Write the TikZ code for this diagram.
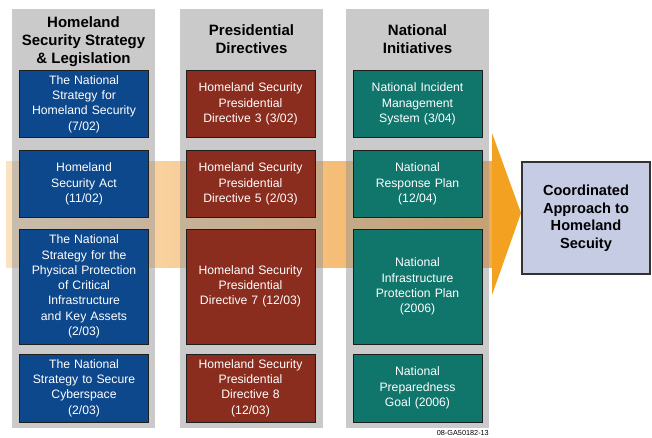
\documentclass[tikz,border=0pt]{standalone}
\usepackage{fontspec}
\setmainfont{Liberation Sans}
\definecolor{hsblue}{RGB}{14,72,140}
\definecolor{hsred}{RGB}{138,45,30}
\definecolor{hsteal}{RGB}{16,118,108}
\definecolor{colgray}{RGB}{151,151,151}
\definecolor{bandL}{RGB}{251,226,192}
\definecolor{bandR}{RGB}{242,172,84}
\definecolor{heador}{RGB}{243,161,32}
\definecolor{goalfill}{RGB}{197,204,228}
\definecolor{edge}{RGB}{30,30,30}
\begin{document}
\begin{tikzpicture}[x=1pt,y=-1pt,
  column/.style={fill=colgray, fill opacity=0.5, draw=none},
  header/.style={align=center, inner sep=0pt, font=\bfseries\fontsize{15}{18}\selectfont},
  itembox/.style={draw=edge, line width=0.8pt, text=white, align=center, inner sep=2pt,
    text width=125pt, font=\fontsize{12.2}{15.3}\selectfont},
  bluebox/.style={itembox, fill=hsblue},
  redbox/.style={itembox, fill=hsred},
  tealbox/.style={itembox, fill=hsteal},
  hA/.style={minimum height=67pt},
  hB/.style={minimum height=115pt},
  hC/.style={minimum height=68pt},
  goal/.style={draw={rgb,255:red,50;green,50;blue,50}, line width=1.2pt, fill=goalfill,
    align=center, minimum width=128pt, minimum height=112pt, inner sep=2pt,
    font=\bfseries\fontsize{14.6}{17.5}\selectfont}
]
\useasboundingbox (0,0) rectangle (652,437);
\fill[white] (0,0) rectangle (652,437);
% band and arrow head
\shade[left color=bandL, right color=bandR] (6,161) rectangle (492,267);
\fill[heador] (492,133) -- (521,213) -- (492,295) -- cycle;
% gray columns
\fill[column] (12,9) rectangle (155,428);
\fill[column] (180,9) rectangle (323,428);
\fill[column] (346,9) rectangle (489,428);
% headers
\node[header] (h1) at (83.5,41.5) {Homeland\\Security Strategy\\\& Legislation};
\node[header] (h2) at (251.5,39.5) {Presidential\\Directives};
\node[header] (h3) at (417.5,39.5) {National\\Initiatives};
% column 1
\node[bluebox,hA] (b1) at (84,104) {The National\\Strategy for\\Homeland Security\\(7/02)};
\node[bluebox,hA] (b2) at (84,184) {Homeland\\Security Act\\(11/02)};
\node[bluebox,hB] (b3) at (84,286.5) {The National\\Strategy for the\\Physical Protection\\of Critical\\Infrastructure\\and Key Assets\\(2/03)};
\node[bluebox,hC] (b4) at (84,388) {The National\\Strategy to Secure\\Cyberspace\\(2/03)};
% column 2
\node[redbox,hA] (r1) at (250.5,104) {Homeland Security\\Presidential\\Directive 3 (3/02)};
\node[redbox,hA] (r2) at (250.5,184) {Homeland Security\\Presidential\\Directive 5 (2/03)};
\node[redbox,hB] (r3) at (250.5,286.5) {Homeland Security\\Presidential\\Directive 7 (12/03)};
\node[redbox,hC] (r4) at (250.5,388) {Homeland Security\\Presidential\\Directive 8\\(12/03)};
% column 3
\node[tealbox,hA] (t1) at (417.5,104) {National Incident\\Management\\System (3/04)};
\node[tealbox,hA] (t2) at (417.5,184) {National\\Response Plan\\(12/04)};
\node[tealbox,hB] (t3) at (417.5,286.5) {National\\Infrastructure\\Protection Plan\\(2006)};
\node[tealbox,hC] (t4) at (417.5,388) {National\\Preparedness\\Goal (2006)};
% goal
\node[goal] (g) at (586,218) {Coordinated\\Approach to\\Homeland\\Secuity};
% footer
\node[anchor=east, inner sep=0pt, font=\fontsize{7.3}{8}\selectfont] (ft) at (489,433) {08-GA50182-13};
\end{tikzpicture}
\end{document}
